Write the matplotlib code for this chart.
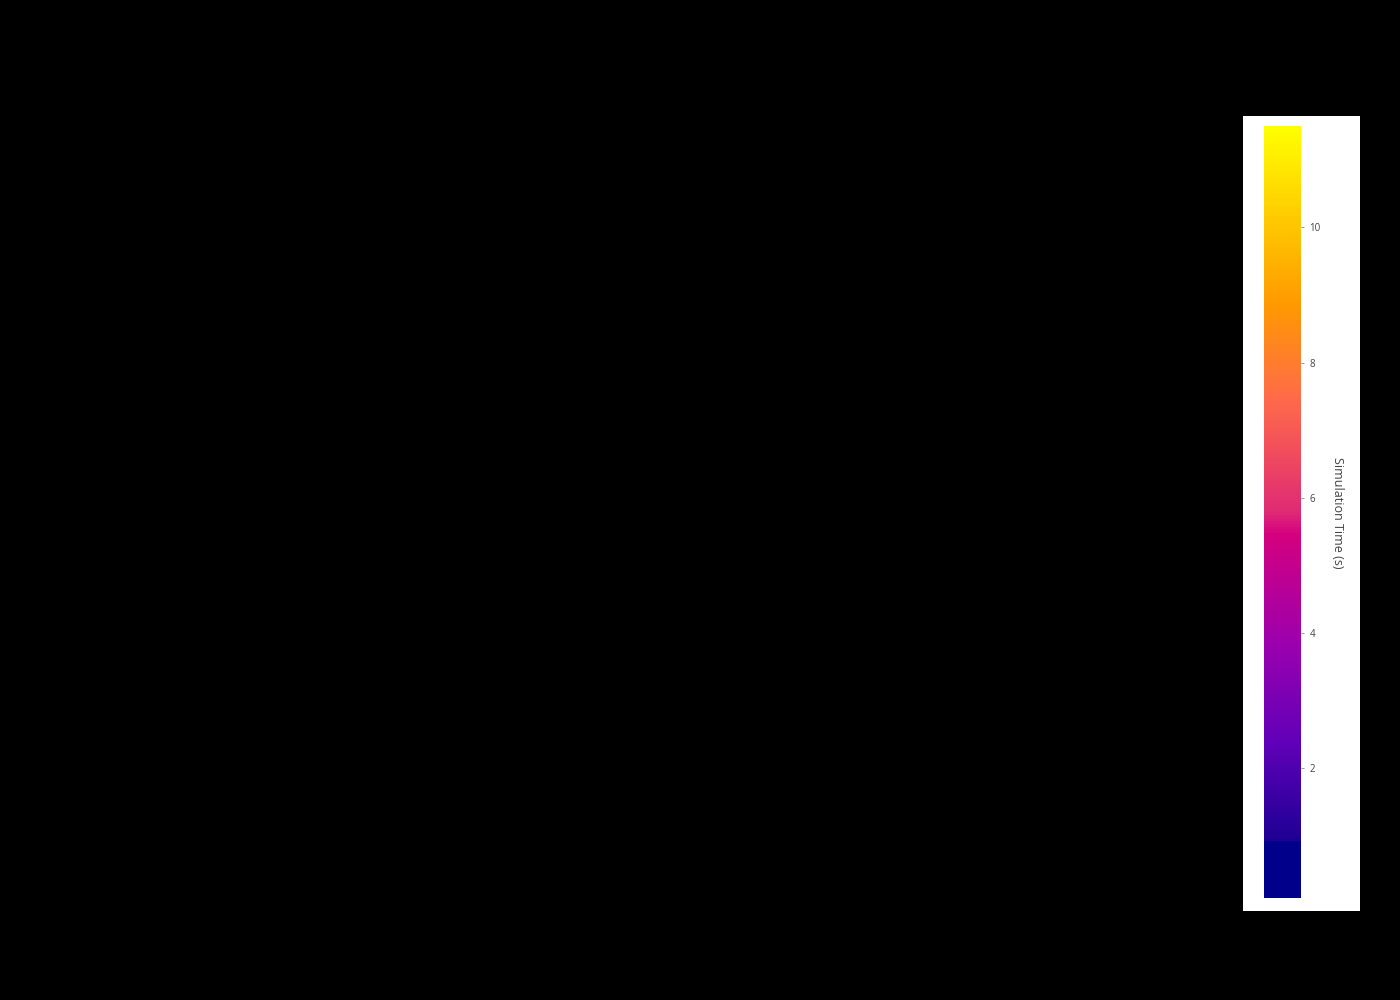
import matplotlib
matplotlib.use("Agg")
import matplotlib.pyplot as plt
from matplotlib.colors import LinearSegmentedColormap, Normalize
from matplotlib.cm import ScalarMappable
from matplotlib.patches import Rectangle

# Data
time_range = [0.08, 11.5]          # colour scale range (s)
cbar_ticks = [2, 4, 6, 8, 10]
cbar_label = "Simulation Time (s)"

stops = [
    (0.00, "#00008b"),
    (0.07, "#00008b"),
    (0.075, "#1e0094"),
    (0.20, "#6000b8"),
    (0.33, "#9c00ae"),
    (0.47, "#d4007f"),
    (0.50, "#df2a74"),
    (0.645, "#ff6a4a"),
    (0.77, "#ff9900"),
    (1.00, "#ffff00"),
]
cmap = LinearSegmentedColormap.from_list("custom", stops)

W, H = 1400, 1000
fig = plt.figure(figsize=(14, 10), dpi=100, facecolor="black")

# white colorbar background box
fig.patches.append(Rectangle((1243 / W, 1 - 911 / H), (1360 - 1243) / W, (911 - 116) / H,
                             transform=fig.transFigure, facecolor="white",
                             edgecolor="none", zorder=-5))

cax = fig.add_axes([1264 / W, 1 - 898 / H, 37 / W, 772 / H])
cax.set_zorder(5)
sm = ScalarMappable(norm=Normalize(vmin=time_range[0], vmax=time_range[1]), cmap=cmap)
cb = fig.colorbar(sm, cax=cax, ticks=cbar_ticks)
cb.outline.set_visible(False)
cax.tick_params(axis="y", length=2, width=0.6, color="#888888", labelcolor="#444444",
                labelsize=7, pad=4)
for t in cax.get_yticklabels():
    t.set_fontfamily("Open Sans")

fig.text(1337 / W, 1 - 513 / H, cbar_label, rotation=270, ha="center", va="center",
         fontsize=9, color="#444444", family="Open Sans", zorder=6)

fig.savefig("out.png", dpi=100, facecolor="black")
